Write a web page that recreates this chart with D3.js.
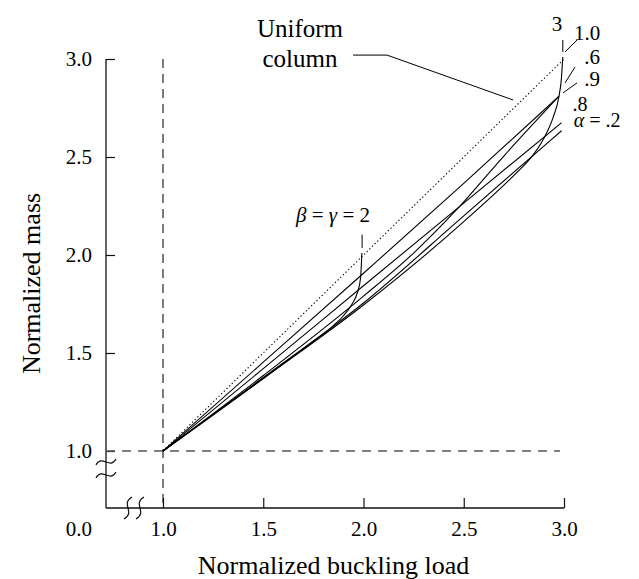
<!DOCTYPE html>
<html><head><meta charset="utf-8">
<script src="https://cdn.jsdelivr.net/npm/d3@7"></script>
<style>
body{margin:0;background:#fff}
svg{display:block}
svg text{font-family:"Liberation Serif","Times New Roman",serif !important;fill:#000}
</style>
</head><body>
<svg id="c" width="639" height="579"></svg>
<script>
// ---------- data ----------
const xMajorTicks = [1.0, 1.5, 2.0, 2.5, 3.0];
const yMajorTicks = [1.0, 1.5, 2.0, 2.5, 3.0];
const minorTicks = d3.range(10, 31).map(d => d / 10);

const uniformX = [1, 3];
const uniformY = [1, 3];
// alpha = .6
const a06X = [1, 1.5, 2.0, 2.5, 2.975];
const a06Y = [1, 1.453, 1.907, 2.365, 2.81];
// alpha = .8
const a08X = [1, 1.5, 2.0, 2.5, 2.988];
const a08Y = [1, 1.42, 1.843, 2.265, 2.675];
// alpha = .2
const a02X = [1, 1.5, 2.0, 2.5, 2.988];
const a02Y = [1, 1.375, 1.755, 2.2, 2.634];
// alpha = .9
const a09X = [1, 1.5, 2.0, 2.25, 2.456, 2.7, 2.975];
const a09Y = [1, 1.385, 1.79, 2.01, 2.222, 2.505, 2.81];
// alpha = 1.0, beta = gamma = 3
const a10X = [1, 1.5, 2.0, 2.5, 2.764, 2.83, 2.897, 2.947, 2.975, 2.987, 2.994];
const a10Y = [1, 1.37, 1.745, 2.17, 2.42, 2.49, 2.59, 2.706, 2.81, 2.9, 3.01];
// beta = gamma = 2
const bg2X = [1, 1.5, 1.75, 1.85, 1.9, 1.94, 1.97, 1.985, 1.992];
const bg2Y = [1, 1.37, 1.56, 1.64, 1.69, 1.745, 1.81, 1.88, 2.01];

// ---------- setup ----------
const svg = d3.select('#c');
const x = d3.scaleLinear().domain([1, 3]).range([163, 564]);
const y = d3.scaleLinear().domain([1, 3]).range([451, 59]);
const gap = 57;
const axisX = x(1) - gap;
const axisY = y(1) + gap;
const serif = '"Liberation Serif","Times New Roman",serif';

// axes
const gY = svg.append('g').attr('transform', `translate(${axisX},0)`);
gY.call(d3.axisLeft(y).tickValues(minorTicks.filter(t => !yMajorTicks.includes(t))).tickSize(-5).tickFormat(''));
gY.call(d3.axisLeft(y).tickValues(yMajorTicks).tickSize(-9).tickPadding(14).tickFormat(d3.format('.1f')));
gY.selectAll('.domain').remove();
gY.attr('font-family', serif).attr('font-size', 21);
gY.selectAll('line').attr('stroke', '#111').attr('stroke-width', 1.2);

const gX = svg.append('g').attr('transform', `translate(0,${axisY})`);
gX.call(d3.axisBottom(x).tickValues(minorTicks.filter(t => !xMajorTicks.includes(t))).tickSize(-5).tickFormat(''));
gX.call(d3.axisBottom(x).tickValues(xMajorTicks).tickSize(-10).tickPadding(13).tickFormat(d3.format('.1f')));
gX.selectAll('.domain').remove();
gX.attr('font-family', serif).attr('font-size', 21);
gX.selectAll('line').attr('stroke', '#111').attr('stroke-width', 1.2);

// axis lines
svg.append('line').attr('x1', axisX).attr('x2', axisX).attr('y1', y(3)).attr('y2', axisY)
  .attr('stroke', '#111').attr('stroke-width', 1.3);
svg.append('line').attr('x1', axisX).attr('x2', x(3)).attr('y1', axisY).attr('y2', axisY)
  .attr('stroke', '#111').attr('stroke-width', 1.3);

// origin label
svg.append('text').attr('x', axisX - 14).attr('y', axisY + 13).attr('dy', '0.71em')
  .attr('text-anchor', 'end').attr('font-size', 21).text('0.0');

// break symbols
const tilde = 'M-10,3 C-4,-8 4,8 10,-3';
[y(1) + 11, y(1) + 24].forEach(yy => {
  svg.append('path').attr('d', tilde).attr('transform', `translate(${axisX},${yy})`)
    .attr('fill', 'none').attr('stroke', '#111').attr('stroke-width', 1.2);
});
const vtilde = 'M4,-11 C-8,-4 8,4 -4,11';
[axisX + 22, axisX + 34].forEach(xx => {
  svg.append('path').attr('d', vtilde).attr('transform', `translate(${xx},${axisY})`)
    .attr('fill', 'none').attr('stroke', '#111').attr('stroke-width', 1.2);
});

// dashed reference lines
svg.append('line').attr('x1', x(1)).attr('x2', x(1)).attr('y1', y(3)).attr('y2', axisY)
  .attr('stroke', '#111').attr('stroke-width', 1.1).attr('stroke-dasharray', '9,6');
svg.append('line').attr('x1', axisX).attr('x2', x(2.98)).attr('y1', y(1)).attr('y2', y(1))
  .attr('stroke', '#555').attr('stroke-width', 1.5).attr('stroke-dasharray', '9,7');

// curves
const line = d3.line().x(d => x(d[0])).y(d => y(d[1])).curve(d3.curveMonotoneX);
const zip = (xs, ys) => xs.map((v, i) => [v, ys[i]]);
svg.append('path').attr('d', d3.line().x(d => x(d[0])).y(d => y(d[1]))(zip(uniformX, uniformY)))
  .attr('fill', 'none').attr('stroke', '#000').attr('stroke-width', 1.1).attr('stroke-dasharray', '1.3,2.4');
[[a06X, a06Y], [a08X, a08Y], [a02X, a02Y], [a09X, a09Y], [a10X, a10Y], [bg2X, bg2Y]].forEach(([xs, ys]) => {
  svg.append('path').attr('d', line(zip(xs, ys)))
    .attr('fill', 'none').attr('stroke', '#000').attr('stroke-width', 1.1);
});

// annotations (positions in data units)
const seg = (p, q) => svg.append('line').attr('x1', x(p[0])).attr('y1', y(p[1])).attr('x2', x(q[0])).attr('y2', y(q[1]))
  .attr('stroke', '#000').attr('stroke-width', 1);
const lab = (p, s, size) => svg.append('text').attr('x', x(p[0])).attr('y', y(p[1])).attr('dy', '0.35em')
  .attr('text-anchor', 'middle').attr('font-size', size || 21).text(s);

lab([1.683, 3.158], 'Uniform', 25);
lab([1.683, 3.005], 'column', 25);
svg.append('path').attr('d', d3.line().x(d => x(d[0])).y(d => y(d[1]))([[1.948, 3.02], [2.117, 3.02], [2.746, 2.791]]))
  .attr('fill', 'none').attr('stroke', '#000').attr('stroke-width', 1);

lab([2.965, 3.179], '3');
seg([2.994, 3.097], [2.994, 3.036]);
lab([3.115, 3.133], '1.0');
seg([3.005, 3.036], [3.065, 3.097]);
lab([3.14, 3.01], '.6');
seg([3.005, 2.878], [3.055, 2.959]);
lab([3.14, 2.898], '.9');
seg([2.995, 2.827], [3.065, 2.878]);
lab([3.08, 2.77], '.8', 20);

const ta = svg.append('text').attr('x', x(3.165)).attr('y', y(2.69)).attr('dy', '0.35em')
  .attr('text-anchor', 'middle').attr('font-size', 20);
ta.append('tspan').attr('font-style', 'italic').text('α');
ta.append('tspan').text(' = .2');

const tb = svg.append('text').attr('x', x(1.848)).attr('y', y(2.204)).attr('dy', '0.35em')
  .attr('text-anchor', 'middle').attr('font-size', 21);
tb.append('tspan').attr('font-style', 'italic').text('β');
tb.append('tspan').text(' = ');
tb.append('tspan').attr('font-style', 'italic').text('γ');
tb.append('tspan').text(' = 2');
seg([1.993, 2.104], [1.993, 2.036]);

// axis titles
svg.append('text').attr('x', (x(1) + x(3)) / 2 - 30).attr('y', axisY + 57).attr('dy', '0.35em')
  .attr('text-anchor', 'middle').attr('font-size', 26).text('Normalized buckling load');
svg.append('text').attr('transform', `translate(31,${(y(3) + axisY) / 2}) rotate(-90)`).attr('dy', '0.35em')
  .attr('text-anchor', 'middle').attr('font-size', 26).text('Normalized mass');
</script>
</body></html>
